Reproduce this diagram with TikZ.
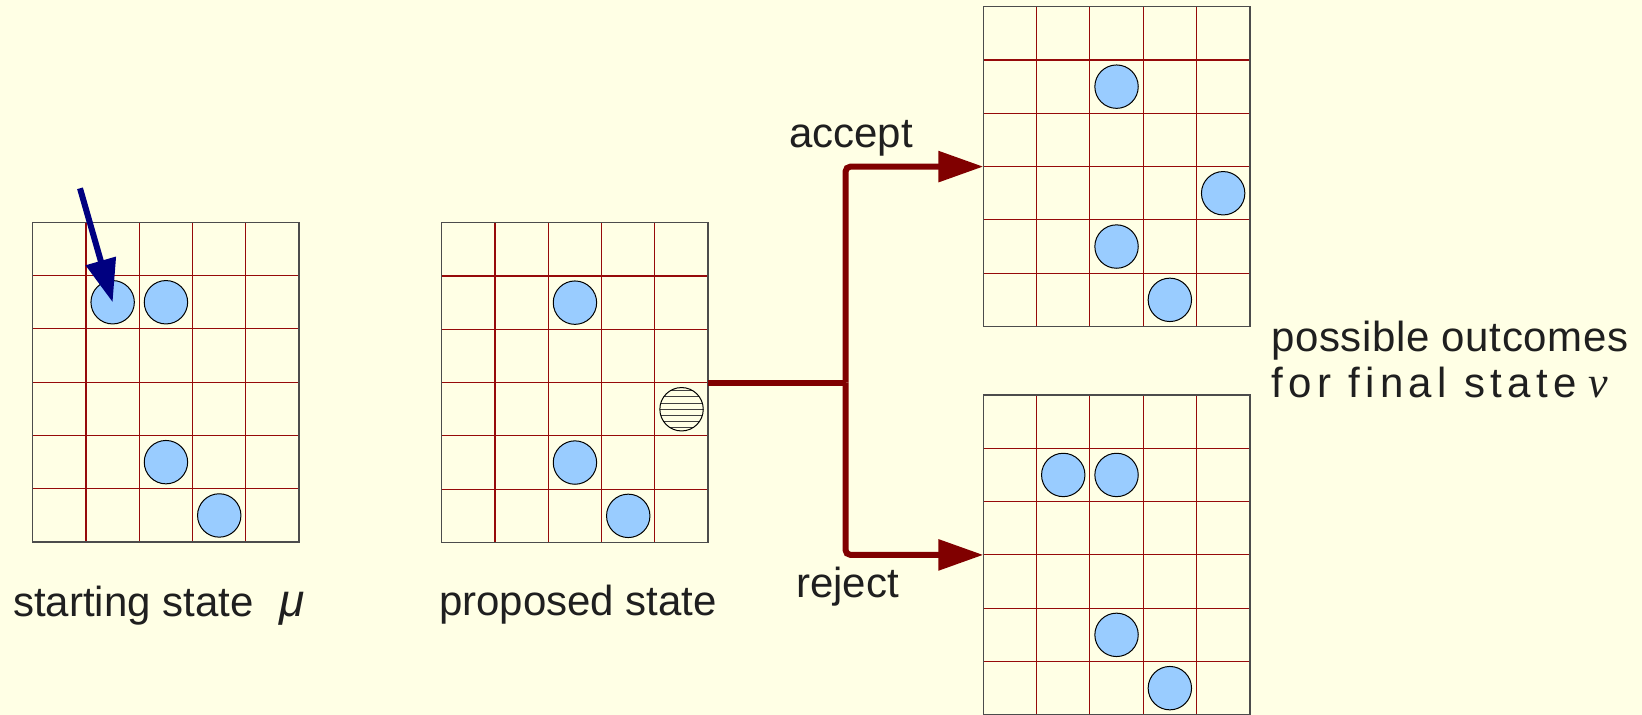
\documentclass[tikz,border=0pt]{standalone}
\usepackage{fontspec}
\setmainfont{Liberation Sans}
\newfontfamily\timesfam{Liberation Serif}
\usetikzlibrary{arrows.meta,calc}
\definecolor{bgcol}{RGB}{255,255,229}
\definecolor{gridred}{RGB}{150,10,10}
\definecolor{ballblue}{RGB}{153,204,255}
\definecolor{linkred}{RGB}{128,0,0}
\definecolor{navyarrow}{RGB}{0,0,128}
\newcommand{\mkgrid}[3]{%
  \foreach \i in {1,...,4} {\draw[gline] ({#2+\i*53.3},#3) -- ({#2+\i*53.3},{#3+319.8});}
  \foreach \j in {1,...,5} {\draw[gline] (#2,{#3+\j*53.3}) -- ({#2+266.5},{#3+\j*53.3});}
  \node[gframe] (#1) at ({#2+133.25},{#3+159.9}) {};
}
\newcommand{\mkball}[5]{%
  \node[#5] (#1) at ($(#2.north west)+({(#3+0.5)*53.3},{(#4+0.5)*53.3})$) {};
}
\begin{document}
\begin{tikzpicture}[x=1pt,y=-1pt,
  gframe/.style={draw=black!70, line width=1.5pt, minimum width=266.5pt, minimum height=319.8pt, inner sep=0pt, outer sep=0pt},
  gline/.style={draw=gridred, line width=1.1pt},
  ball/.style={circle, draw=black, line width=1pt, fill=ballblue, minimum size=43.4pt, inner sep=0pt},
  hball/.style={circle, draw=black, line width=1pt, minimum size=43.4pt, inner sep=0pt,
    path picture={\foreach \k in {-3,...,3}{\draw[black!75,line width=1pt] ([xshift=-25pt,yshift=\k*6.2pt]path picture bounding box.center) -- ++(50pt,0pt);}}},
  lbl/.style={inner sep=0pt, anchor=base west, font=\fontsize{42}{48}\selectfont, text=black!88},
  link/.style={draw=linkred, line width=6pt},
  tip/.style={-{Triangle[length=45pt,width=30pt]}}
  ]
\fill[bgcol] (0,0) rectangle (1642,715);
\useasboundingbox (0,0) rectangle (1642,715);

\mkgrid{g1}{32.7}{222.3}
\mkgrid{g2}{441.7}{222.7}
\mkgrid{g3}{983.3}{6.7}
\mkgrid{g4}{983.3}{395}

\mkball{a1}{g1}{1}{1}{ball}
\mkball{a2}{g1}{2}{1}{ball}
\mkball{a3}{g1}{2}{4}{ball}
\mkball{a4}{g1}{3}{5}{ball}

\mkball{b1}{g2}{2}{1}{ball}
\mkball{b2}{g2}{4}{3}{hball}
\mkball{b3}{g2}{2}{4}{ball}
\mkball{b4}{g2}{3}{5}{ball}

\mkball{c1}{g3}{2}{1}{ball}
\mkball{c2}{g3}{4}{3}{ball}
\mkball{c3}{g3}{2}{4}{ball}
\mkball{c4}{g3}{3}{5}{ball}

\mkball{d1}{g4}{1}{1}{ball}
\mkball{d2}{g4}{2}{1}{ball}
\mkball{d3}{g4}{2}{4}{ball}
\mkball{d4}{g4}{3}{5}{ball}

% pointer arrow
\coordinate (ast) at (80,188.3);
\draw[draw=navyarrow, line width=6pt, -{Triangle[length=43pt,width=30pt]}] (ast) -- (a1.center);

% connectors
\coordinate (jn) at ($(g2.east)+(137.3,0)$);
\draw[link] (g2.east) -- (jn);
\draw[link, tip, rounded corners=5pt] (jn) |- (g3.west);
\draw[link, tip, rounded corners=5pt] (jn) |- (g4.west);

% labels
\node[lbl] (t1) at (13,616) {starting state};
\node[lbl, font=\fontsize{46}{50}\selectfont\itshape] (t1m) at (279,616) {μ};
\node[lbl] (t2) at (439,615) {proposed state};
\node[lbl] (acc) at (789,147) {accept};
\node[lbl] (rej) at (796,597) {reject};
\node[lbl] (po1) at (1271,351) {{\addfontfeature{LetterSpace=1.5}possible outcomes}};
\node[lbl] (po2) at (1271,397) {{\addfontfeature{LetterSpace=13}for final state}\hspace{11pt}{\timesfam\itshape\fontsize{44}{48}\selectfont ν}};
\end{tikzpicture}
\end{document}
